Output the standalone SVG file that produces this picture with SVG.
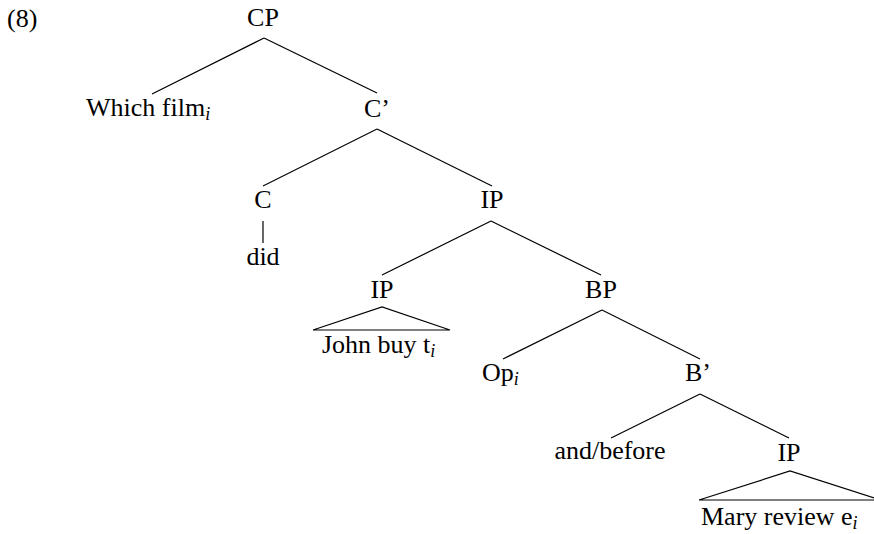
<svg xmlns="http://www.w3.org/2000/svg" width="874" height="534" viewBox="0 0 874 534">
<style>
text{font-family:"Liberation Serif","Times New Roman",serif;font-size:26px;fill:#000}
.c{text-anchor:middle}
.sub{font-size:18px;font-style:italic}
line,polyline{stroke:#000;stroke-width:1.2;fill:none}
</style>
<rect width="874" height="534" fill="#fff"/>
<text x="7" y="27">(8)</text>
<g id="connectors">
<line x1="264" y1="38" x2="152" y2="94"/>
<line x1="264" y1="38" x2="377" y2="93"/>
<line x1="377" y1="129" x2="263" y2="186"/>
<line x1="377" y1="129" x2="492" y2="186"/>
<line x1="263" y1="221" x2="263" y2="243"/>
<line x1="491" y1="221" x2="382" y2="275"/>
<line x1="491" y1="221" x2="601" y2="275"/>
<polyline points="313,330 382,307 450,330 313,330"/>
<line x1="602" y1="310" x2="503" y2="359"/>
<line x1="602" y1="310" x2="700" y2="359"/>
<line x1="700" y1="394" x2="611" y2="438"/>
<line x1="700" y1="394" x2="789" y2="438"/>
<polyline points="699,500 790,471 881,500 699,500"/>
</g>
<g id="n-cp"><text class="c" x="263" y="26">CP</text></g>
<g id="n-which"><text x="86" y="116">Which film<tspan class="sub" dy="4">i</tspan></text></g>
<g id="n-cbar"><text class="c" x="377" y="117">C’</text></g>
<g id="n-c"><text class="c" x="263" y="208">C</text></g>
<g id="n-did"><text class="c" x="263" y="265">did</text></g>
<g id="n-ip1"><text class="c" x="492" y="208">IP</text></g>
<g id="n-ip2"><text class="c" x="382" y="298">IP</text><text x="322" y="353">John buy t<tspan class="sub" dy="4">i</tspan></text></g>
<g id="n-bp"><text class="c" x="601" y="298">BP</text></g>
<g id="n-op"><text x="482" y="381">Op<tspan class="sub" dy="4">i</tspan></text></g>
<g id="n-bbar"><text class="c" x="698" y="381">B’</text></g>
<g id="n-and"><text class="c" x="610" y="459">and/before</text></g>
<g id="n-ip3"><text class="c" x="789" y="461">IP</text><text x="701" y="525">Mary review e<tspan class="sub" dy="4">i</tspan></text></g>
</svg>
